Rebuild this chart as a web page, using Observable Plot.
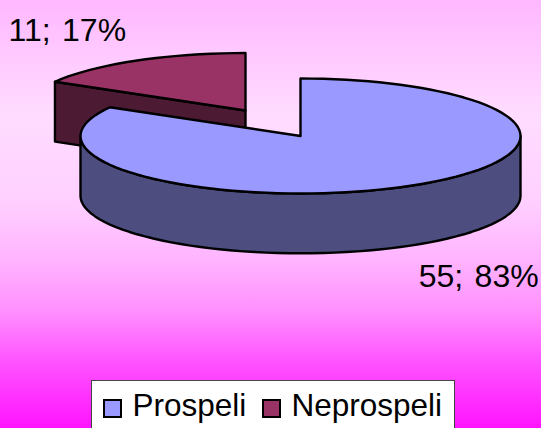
<!DOCTYPE html>
<html>
<head>
<meta charset="utf-8">
<script src="https://cdn.jsdelivr.net/npm/d3@7"></script>
<script src="https://cdn.jsdelivr.net/npm/@observablehq/plot@0.6"></script>
<style>
html,body{margin:0;padding:0;width:541px;height:428px;overflow:hidden;font-family:"Liberation Sans",Arial,sans-serif;
background:linear-gradient(to bottom,#ffb8ff 0px,#ffdcff 115px,#ffd0ff 200px,#ffb4ff 260px,#ff90ff 310px,#ff55ff 360px,#ff14ff 428px);}
svg{display:block;}
#legend{position:relative;box-sizing:border-box;margin-left:91px;width:364px;height:60px;background:#fff;border:1px solid #444;color:#000;font-size:31.5px;line-height:1;}
#legend span.s{position:absolute;top:18px;width:15px;height:15px;border:2px solid #000;}
#legend span.t{position:absolute;top:9px;white-space:nowrap;}
</style>
</head>
<body>
<div id="chart"></div>
<div id="legend"></div>
<script>
const categories = ["Prospeli", "Neprospeli"];
const values = [55, 11];
const percents = [83, 17];
const topColors = ["#9999ff", "#993366"];
const sideColors = ["#4d4d80", "#4d1a33"];

// Pie model in unit coordinates: the rim is the unit circle seen in perspective.
const depth = 1.04;
const explode = [[0, 0], [-0.25, 0.443]];
const labelAt = [[0.81, -2.44], [-1.06, 1.835]];

const pie = d3.pie().sort(null).value(d => d)(values);
const step = Math.PI / 60;
function rim(a0, a1, c, drop = 0) {
  const n = Math.max(1, Math.round((a1 - a0) / step));
  return d3.range(n + 1).map(i => {
    const a = a0 + (a1 - a0) * i / n;
    return {x: c[0] + Math.sin(a), y: c[1] + Math.cos(a) - drop};
  });
}
function sector(i) {
  const c = explode[i], centre = {x: c[0], y: c[1]};
  const arc = rim(pie[i].startAngle, pie[i].endAngle, c);
  return [centre, ...arc, centre];
}
function wall(i) {            // front outer wall of slice i
  const a0 = Math.max(pie[i].startAngle, Math.PI / 2);
  const a1 = Math.min(pie[i].endAngle, 3 * Math.PI / 2);
  const t = rim(a0, a1, explode[i]);
  const b = rim(a0, a1, explode[i], depth).reverse();
  return [...t, ...b, t[0]];
}
function cut(i) {             // radial cut face of slice i at its start angle
  const c = explode[i];
  const p = {x: c[0] + Math.sin(pie[i].startAngle), y: c[1] + Math.cos(pie[i].startAngle)};
  return [p, {x: c[0], y: c[1]}, {x: c[0], y: c[1] - depth}, {x: p.x, y: p.y - depth}, p];
}
const line = (d, fill) => Plot.line(d, {x: "x", y: "y", fill, stroke: "#000", strokeWidth: 2.4, strokeLinejoin: "round", curve: "linear"});

const labels = categories.map((c, i) => ({x: labelAt[i][0], y: labelAt[i][1], text: `${values[i]}; ${percents[i]}%`}));

const plot = Plot.plot({
  width: 541, height: 380,
  marginLeft: 80, marginRight: 21, marginTop: 78, marginBottom: 187,
  x: {domain: [-1, 1], axis: null},
  y: {domain: [-1, 1], axis: null},
  style: {background: "transparent", overflow: "visible"},
  marks: [
    line(cut(1), sideColors[1]),
    line(sector(1), topColors[1]),
    line(wall(0), sideColors[0]),
    line(sector(0), topColors[0]),
    Plot.text(labels, {x: "x", y: "y", text: "text", fontSize: 32, fontFamily: "Liberation Sans", fill: "#000", clip: false})
  ]
});
plot.querySelectorAll("text").forEach(t => t.style.wordSpacing = "2.5px");
document.getElementById("chart").append(plot);

const legend = document.getElementById("legend");
const sw = [11, 170], tx = [40.5, 199.5];
categories.forEach((c, i) => {
  const s = document.createElement("span");
  s.className = "s"; s.style.left = sw[i] + "px"; s.style.background = topColors[i];
  const t = document.createElement("span");
  t.className = "t"; t.style.left = tx[i] + "px"; t.textContent = c;
  legend.append(s, t);
});
</script>
</body>
</html>
